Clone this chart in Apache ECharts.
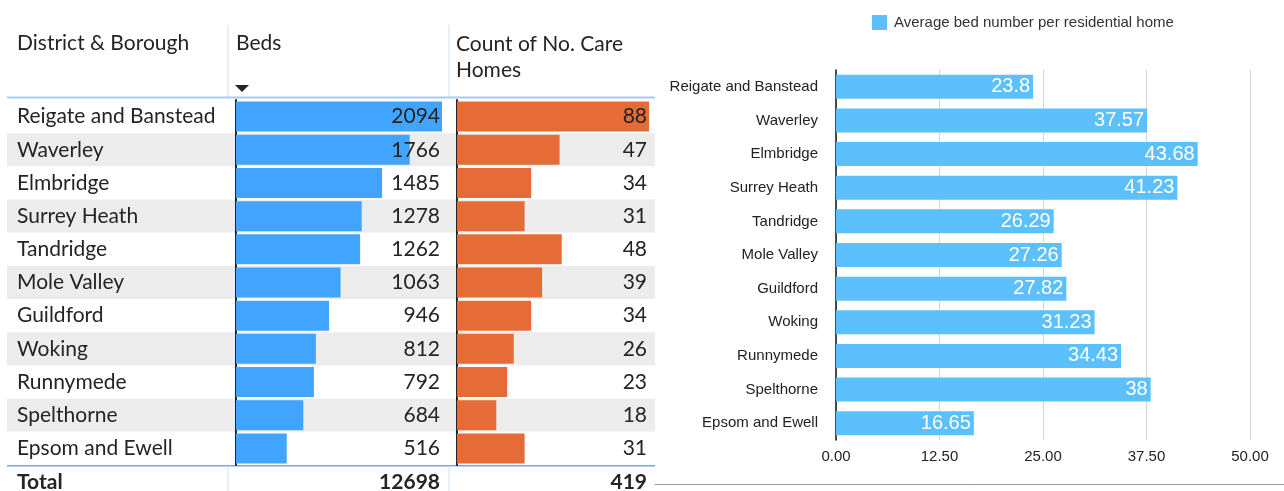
<!DOCTYPE html>
<html>
<head>
<meta charset="utf-8">
<script src="https://cdn.jsdelivr.net/npm/echarts@6/dist/echarts.min.js"></script>
<style>
  html, body { margin: 0; padding: 0; background: #fff; }
  #main { width: 1284px; height: 491px; }
</style>
</head>
<body>
<div id="main"></div>
<script>
// data
var districts = ["Reigate and Banstead", "Waverley", "Elmbridge", "Surrey Heath", "Tandridge",
  "Mole Valley", "Guildford", "Woking", "Runnymede", "Spelthorne", "Epsom and Ewell"];
var beds = [2094, 1766, 1485, 1278, 1262, 1063, 946, 812, 792, 684, 516];
var careHomes = [88, 47, 34, 31, 48, 39, 34, 26, 23, 18, 31];
var avgBeds = [23.8, 37.57, 43.68, 41.23, 26.29, 27.26, 27.82, 31.23, 34.43, 38, 16.65];
var avgTicks = [0, 12.5, 25, 37.5, 50];

var bedsMax = Math.max.apply(null, beds);
var homesMax = Math.max.apply(null, careHomes);
var bedsTotal = beds.reduce(function (a, b) { return a + b; }, 0);
var homesTotal = careHomes.reduce(function (a, b) { return a + b; }, 0);

var tableFont = "Lato";
var chartFont = "Liberation Sans";
var ink = "#252423";
var rowTop = 100, rowH = 365;

var myChart = echarts.init(document.getElementById("main"));

function hiddenX(idx, max) {
  return { type: "value", gridIndex: idx, min: 0, max: max, show: false };
}
function catY(idx, extra) {
  return Object.assign({
    type: "category", gridIndex: idx, data: districts, inverse: true,
    axisTick: { show: false }, axisLabel: { show: false },
    axisLine: { show: true, lineStyle: { color: "#252423", width: 2 } }
  }, extra || {});
}

myChart.setOption({
  animation: false,
  legend: {
    data: ["Average bed number per residential home"],
    left: 867, top: 10, icon: "rect", itemWidth: 15, itemHeight: 15, itemGap: 8,
    textStyle: { fontFamily: chartFont, fontSize: 15, color: "#333", padding: [0, 0, 0, 2] }
  },
  grid: [
    { left: 7, top: rowTop, width: 648, height: rowH },
    { left: 236, top: rowTop, width: 206, height: rowH },
    { left: 457, top: rowTop, width: 192, height: rowH },
    { left: 836, top: 70, width: 414, height: 370 }
  ],
  xAxis: [
    hiddenX(0, 1),
    hiddenX(1, bedsMax),
    hiddenX(2, homesMax),
    {
      type: "value", gridIndex: 3, min: 0, max: 50, interval: 12.5,
      axisLine: { show: false }, axisTick: { show: false },
      splitLine: { show: true, lineStyle: { color: "#d6d6d6" } },
      axisLabel: {
        fontFamily: chartFont, fontSize: 15, color: "#222", margin: 9,
        formatter: function (v) { return avgTicks.indexOf(v) >= 0 ? v.toFixed(2) : ""; }
      }
    }
  ],
  yAxis: [
    catY(0, {
      axisLine: { show: false },
      splitArea: { show: true, areaStyle: { color: ["#ffffff", "#ececec"] } },
      axisLabel: { show: true, inside: true, align: "left", margin: 10,
        fontFamily: tableFont, fontSize: 21, color: ink }
    }),
    catY(1),
    catY(2),
    catY(3, {
      axisLine: { show: true, lineStyle: { color: "#111", width: 1.5 } },
      axisLabel: { show: true, margin: 18, fontFamily: chartFont, fontSize: 15, color: "#222" }
    })
  ],
  series: [
    {
      type: "bar", xAxisIndex: 1, yAxisIndex: 1, data: beds, barWidth: 30,
      itemStyle: { color: "#41a4ff" }, silent: true
    },
    {
      type: "bar", xAxisIndex: 1, yAxisIndex: 1, barWidth: 30, barGap: "-100%", z: 3,
      data: beds.map(function () { return bedsMax; }),
      itemStyle: { color: "rgba(0,0,0,0)" }, silent: true,
      label: {
        show: true, position: "insideRight", distance: 2,
        fontFamily: tableFont, fontSize: 21, color: ink,
        formatter: function (p) { return beds[p.dataIndex]; }
      }
    },
    {
      type: "bar", xAxisIndex: 2, yAxisIndex: 2, data: careHomes, barWidth: 30,
      itemStyle: { color: "#e66c37" }, silent: true
    },
    {
      type: "bar", xAxisIndex: 2, yAxisIndex: 2, barWidth: 30, barGap: "-100%", z: 3,
      data: careHomes.map(function () { return homesMax; }),
      itemStyle: { color: "rgba(0,0,0,0)" }, silent: true,
      label: {
        show: true, position: "insideRight", distance: 2,
        fontFamily: tableFont, fontSize: 21, color: ink,
        formatter: function (p) { return careHomes[p.dataIndex]; }
      }
    },
    {
      name: "Average bed number per residential home",
      type: "bar", xAxisIndex: 3, yAxisIndex: 3, data: avgBeds, barWidth: 24,
      itemStyle: { color: "#5bc0fc" },
      label: {
        show: true, position: "insideRight", distance: 3,
        fontFamily: chartFont, fontSize: 20, color: "#fff"
      }
    }
  ],
  graphic: [
    // header
    { type: "text", left: 17, top: 33, style: { text: "District & Borough", font: "21px " + tableFont, fill: ink } },
    { type: "text", left: 236, top: 33, style: { text: "Beds", font: "21px " + tableFont, fill: ink } },
    { type: "text", left: 456, top: 31, style: { text: "Count of No. Care\nHomes", font: "21px " + tableFont, fill: ink, lineHeight: 26 } },
    { type: "polygon", shape: { points: [[235, 85], [249, 85], [242, 92]] }, style: { fill: "#252423" } },
    { type: "line", shape: { x1: 228, y1: 25, x2: 228, y2: 97 }, style: { stroke: "#cfe0f3", lineWidth: 1 } },
    { type: "line", shape: { x1: 449, y1: 25, x2: 449, y2: 97 }, style: { stroke: "#cfe0f3", lineWidth: 1 } },
    { type: "line", shape: { x1: 7, y1: 97.5, x2: 655, y2: 97.5 }, style: { stroke: "#a9cbf0", lineWidth: 2 } },
    // total row
    { type: "line", shape: { x1: 7, y1: 465.5, x2: 655, y2: 465.5 }, style: { stroke: "#6aaaf0", lineWidth: 2 } },
    { type: "line", shape: { x1: 228, y1: 466, x2: 228, y2: 491 }, style: { stroke: "#cfe0f3", lineWidth: 1 } },
    { type: "line", shape: { x1: 449, y1: 466, x2: 449, y2: 491 }, style: { stroke: "#cfe0f3", lineWidth: 1 } },
    { type: "text", left: 17, top: 472, style: { text: "Total", font: "bold 21px " + tableFont, fill: ink } },
    { type: "text", right: 1284 - 440, top: 472, style: { text: String(bedsTotal), font: "bold 21px " + tableFont, fill: ink } },
    { type: "text", right: 1284 - 647, top: 472, style: { text: String(homesTotal), font: "bold 21px " + tableFont, fill: ink } },
    // bottom border of the right chart
    { type: "line", shape: { x1: 655, y1: 484.5, x2: 1284, y2: 484.5 }, style: { stroke: "#999", lineWidth: 1 } }
  ]
});
</script>
</body>
</html>
